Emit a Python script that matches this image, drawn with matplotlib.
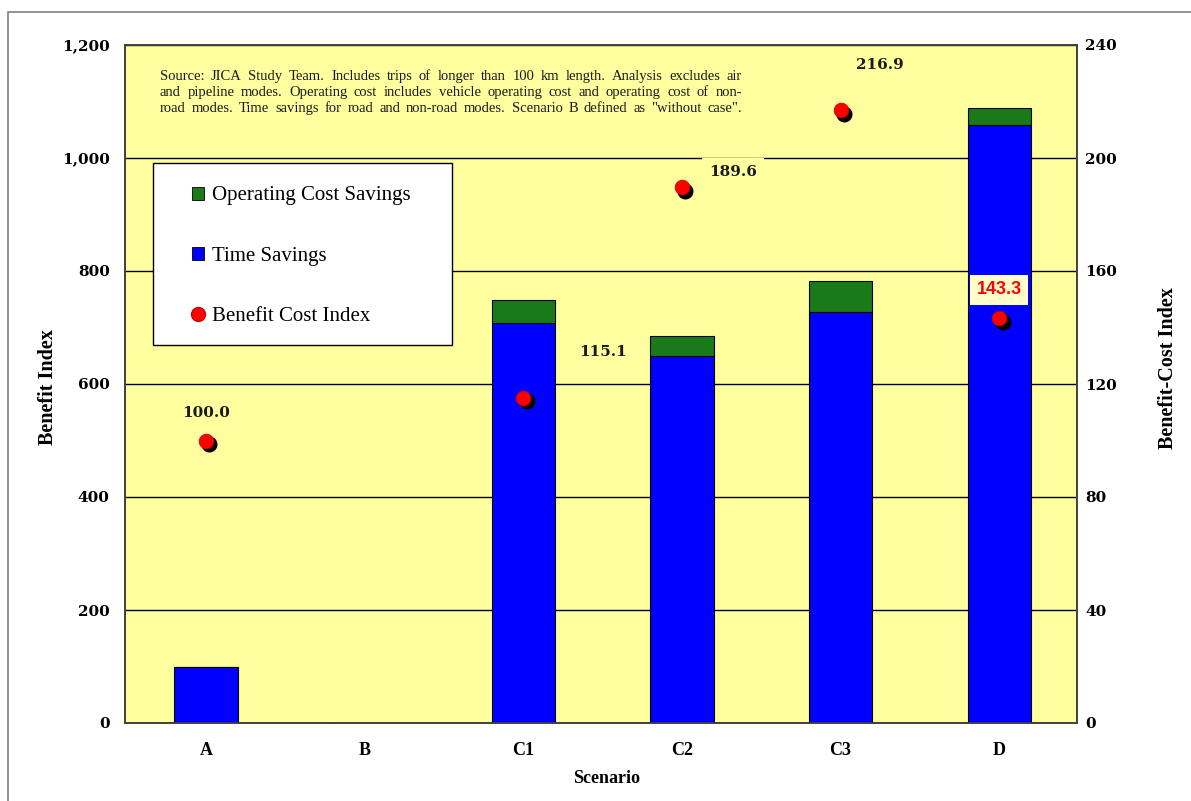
import matplotlib
matplotlib.use("Agg")
import matplotlib.pyplot as plt
from matplotlib.patches import Patch, Rectangle
from matplotlib.lines import Line2D
from matplotlib.transforms import offset_copy
from matplotlib.ticker import FuncFormatter

# Scenario data
scenarios = ["A", "B", "C1", "C2", "C3", "D"]
time_savings = [100, 0, 708, 650, 727, 1058]
operating_cost_savings = [0, 0, 41, 35, 55, 30]
benefit_cost_index = [100.0, None, 115.1, 189.6, 216.9, 143.3]

# where each index label sits (category position, index value)
bci_label_pos = {0: (0.0, 109.7), 2: (2.5, 131.3), 3: (3.32, 195.0),
                 4: (4.25, 233.0), 5: (5.0, 153.3)}

note_lines = [
    "Source: JICA Study Team. Includes trips of longer than 100 km length. Analysis excludes air",
    "and pipeline modes. Operating cost includes vehicle operating cost and operating cost of non-",
    "road modes. Time savings for road and non-road modes. Scenario B defined as \"without case\".",
]

BG = "#ffff9f"
BLUE = "#0000ff"
GREEN = "#1a7a1a"
SERIF = "Liberation Serif"
NUMFONT = "DejaVu Serif"

fig = plt.figure(figsize=(11.91, 8.01), dpi=100)
fig.patch.set_facecolor("white")
fig.patches.append(Rectangle((8 / 1191, -0.1), 1.2, 1 - 12 / 801 + 0.1,
                             transform=fig.transFigure, fill=False,
                             edgecolor="#808080", linewidth=1.2))

ax = fig.add_axes([125 / 1191, 78 / 801, 952 / 1191, 678 / 801])
ax.set_facecolor(BG)
x = list(range(len(scenarios)))

ax.bar(x, time_savings, width=0.4, color=BLUE, edgecolor="black",
       linewidth=0.8, zorder=3)
ax.bar(x, operating_cost_savings, width=0.4, bottom=time_savings,
       color=GREEN, edgecolor="black", linewidth=0.8, zorder=3)

ax.set_xlim(-0.51, 5.49)
ax.set_ylim(0, 1200)
ax.set_yticks(range(0, 1201, 200))
ax.yaxis.set_major_formatter(FuncFormatter(lambda v, p: f"{int(v):,}"))
ax.grid(axis="y", color="black", linewidth=1.0, zorder=1)
ax.set_axisbelow(True)
ax.set_xticks(x)
ax.set_xticklabels(scenarios)
for sp in ax.spines.values():
    sp.set_color("#404040")
    sp.set_linewidth(1.2)
ax.tick_params(axis="x", length=0, labelsize=13, pad=14)
ax.tick_params(axis="y", length=0, labelsize=11, pad=11)
for lab in ax.get_xticklabels():
    lab.set_fontfamily(SERIF)
    lab.set_fontweight("bold")
for lab in ax.get_yticklabels():
    lab.set_fontfamily(NUMFONT)
    lab.set_fontweight("bold")
ax.set_xlabel("Scenario", fontfamily=SERIF, fontweight="bold", fontsize=13)
ax.xaxis.set_label_coords(0.506, -0.0693)
ax.set_ylabel("Benefit Index", fontfamily=SERIF, fontweight="bold",
              fontsize=14.5)
ax.yaxis.set_label_coords(-0.0703, 0.495)

ax2 = ax.twinx()
ax2.set_ylim(0, 240)
ax2.set_yticks(range(0, 241, 40))
ax2.tick_params(axis="y", length=0, labelsize=11, pad=6)
for lab in ax2.get_yticklabels():
    lab.set_fontfamily(NUMFONT)
    lab.set_fontweight("bold")
ax2.set_ylabel("Benefit-Cost Index", fontfamily=SERIF, fontweight="bold",
               fontsize=14.5)
ax2.yaxis.set_label_coords(1.085, 0.524)
for sp in ax2.spines.values():
    sp.set_color("#404040")
    sp.set_linewidth(1.2)

px = [i for i, v in enumerate(benefit_cost_index) if v is not None]
py = [v for v in benefit_cost_index if v is not None]
shadow = offset_copy(ax2.transData, fig=fig, x=2.5, y=-2.5, units="points")
ax2.plot(px, py, linestyle="none", marker="o", markersize=10.5,
         color="black", transform=shadow, zorder=4)
ax2.plot(px, py, linestyle="none", marker="o", markersize=10.5,
         markerfacecolor="#ff0000", markeredgecolor="#cc0000",
         markeredgewidth=0.6, zorder=5)

for i, v in enumerate(benefit_cost_index):
    if v is None:
        continue
    lx, ly = bci_label_pos[i]
    if i == 5:
        ax2.text(lx, ly, f"{v:.1f}", ha="center", va="center",
                 fontsize=13, fontweight="bold", color="#ff0000",
                 fontfamily="Liberation Sans", zorder=6,
                 bbox=dict(boxstyle="square,pad=0.35", facecolor="#ffffcc",
                           edgecolor="none"))
    else:
        box = None
        if i == 3:
            box = dict(boxstyle="square,pad=0.45", facecolor=BG,
                       edgecolor="none")
        ax2.text(lx, ly, f"{v:.1f}", ha="center", va="center",
                 fontsize=11, fontweight="bold", color="#1a1a1a",
                 fontfamily=NUMFONT, zorder=6, bbox=box)

# justified note text: spread each line's words across the same width
renderer = fig.canvas.get_renderer()
ax_w = ax.get_window_extent(renderer).width
left_f, right_f = 35 / 952, 617 / 952
for k, line in enumerate(note_lines):
    yk = 0.9529 - k * 0.0236
    words = line.split(" ")
    arts = [ax2.text(0, yk, w, transform=ax.transAxes, ha="left",
                     va="center", fontsize=10.5, fontfamily=SERIF,
                     color="#1a1a1a", zorder=6) for w in words]
    widths = [a.get_window_extent(renderer).width / ax_w for a in arts]
    gap = (right_f - left_f - sum(widths)) / (len(words) - 1)
    pos = left_f
    for a, w in zip(arts, widths):
        a.set_x(pos)
        pos += w + gap

# legend box drawn separately so its padding can differ per side
ax2.add_patch(Rectangle((28 / 952, 378 / 678), 299 / 952, 182 / 678,
                        transform=ax.transAxes, facecolor="white",
                        edgecolor="black", linewidth=1.0, zorder=8))

handles = [
    Patch(facecolor=GREEN, edgecolor="black", linewidth=0.6),
    Patch(facecolor=BLUE, edgecolor="black", linewidth=0.6),
    Line2D([], [], linestyle="none", marker="o", markersize=10,
           markerfacecolor="#ff0000", markeredgecolor="#cc0000"),
]
labels = ["Operating Cost Savings", "Time Savings", "Benefit Cost Index"]
leg = ax2.legend(handles, labels, loc="center left",
                 bbox_to_anchor=(67 / 952, 467 / 678), borderaxespad=0,
                 frameon=False, prop={"family": SERIF, "size": 15},
                 labelspacing=1.97, handlelength=0.58, handleheight=0.58,
                 handletextpad=0.4, borderpad=0)
leg.set_zorder(10)

fig.savefig("out.png", dpi=100, facecolor="white")
